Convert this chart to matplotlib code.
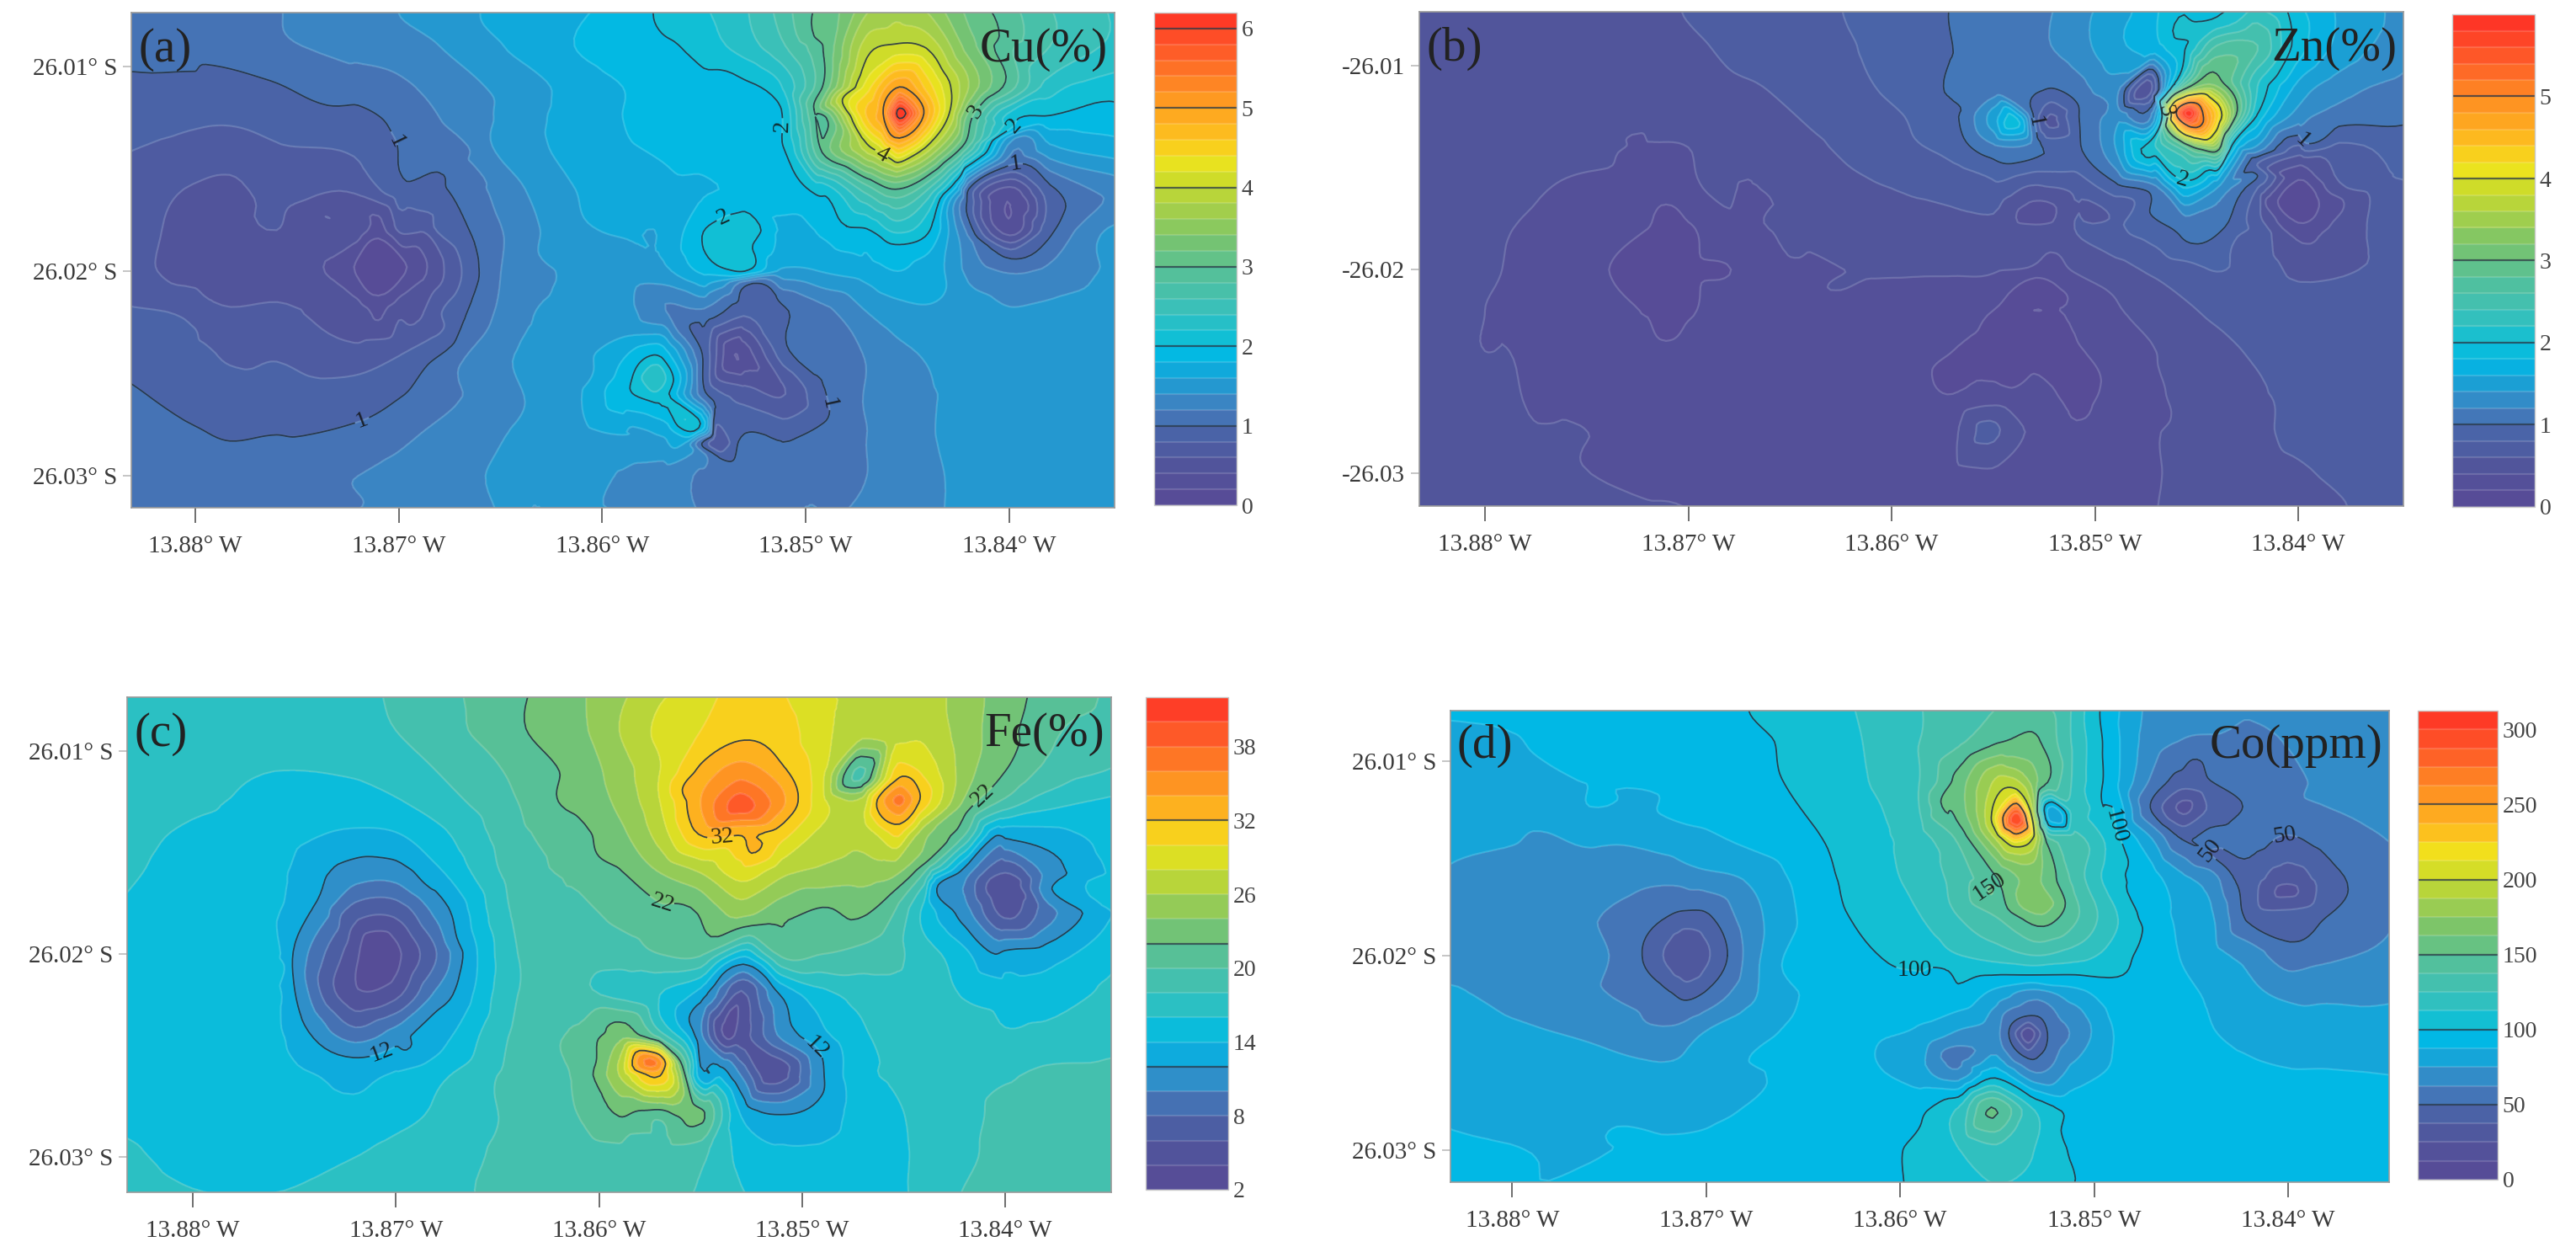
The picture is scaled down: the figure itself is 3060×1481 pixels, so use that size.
import numpy as np
import matplotlib
matplotlib.use("Agg")
import matplotlib.pyplot as plt
import matplotlib.tri as tri
from matplotlib.colors import LinearSegmentedColormap, Normalize

# grid nodes the values were read at (same for all panels)
lons = [-13.884, -13.88, -13.876, -13.872, -13.87, -13.868, -13.864, -13.861, -13.859, -13.857, -13.855,
        -13.853, -13.851, -13.849, -13.847, -13.8455, -13.844, -13.842, -13.84, -13.838, -13.834]
lats = [26.006, 26.009, 26.011, 26.0125, 26.014, 26.016, 26.018, 26.02, 26.022, 26.024, 26.026, 26.028, 26.03, 26.033]

cu_values = [
    [.95, 1.05, 1.18, 1.3, 1.35, 1.42, 1.58, 1.72, 1.85, 2.0, 2.2, 2.4, 2.75, 3.05, 3.4, 3.6, 3.4, 3.05, 2.75, 2.55, 2.3],
    [1.05, 1.1, 1.17, 1.27, 1.32, 1.4, 1.65, 1.82, 1.92, 1.98, 2.1, 2.3, 2.6, 3.05, 3.9, 4.05, 3.95, 3.3, 2.85, 2.6, 2.3],
    [.95, .93, .98, 1.08, 1.15, 1.28, 1.5, 1.7, 1.8, 1.88, 1.93, 1.97, 2.25, 3.1, 4.3, 5.0, 4.5, 3.6, 2.9, 2.3, 2.05],
    [.87, .83, .87, .95, 1.05, 1.2, 1.5, 1.72, 1.8, 1.85, 1.88, 1.93, 2.0, 3.0, 4.6, 5.85, 4.9, 3.1, 2.1, 1.97, 2.05],
    [.82, .75, .78, .87, .97, 1.15, 1.5, 1.7, 1.78, 1.82, 1.88, 1.92, 2.0, 2.5, 3.9, 4.2, 3.9, 2.8, 1.35, 1.55, 1.75],
    [.75, .58, .66, .8, .93, .97, 1.38, 1.62, 1.7, 1.75, 1.78, 1.82, 1.9, 2.1, 2.7, 3.0, 2.6, 1.0, .35, .95, 1.35],
    [.72, .53, .6, .5, .62, .85, 1.3, 1.57, 1.62, 1.62, 2.0, 2.15, 1.75, 1.85, 1.98, 2.25, 2.0, 1.0, .3, .95, 1.45],
    [.72, .52, .52, .25, .25, .68, 1.3, 1.45, 1.5, 1.55, 1.85, 2.0, 1.55, 1.62, 1.7, 1.8, 1.68, 1.35, 1.18, 1.25, 1.5],
    [.85, .75, .65, .5, .55, .78, 1.35, 1.48, 1.48, 1.42, 1.15, .85, .95, 1.15, 1.4, 1.52, 1.55, 1.5, 1.42, 1.45, 1.52],
    [.95, .85, .78, .72, .78, .98, 1.42, 1.55, 1.75, 1.9, .95, .3, .75, 1.05, 1.22, 1.35, 1.42, 1.5, 1.5, 1.5, 1.52],
    [1.05, .92, .85, .9, .98, 1.12, 1.42, 1.6, 1.95, 2.1, 1.05, .7, .6, .98, 1.2, 1.3, 1.38, 1.45, 1.5, 1.5, 1.52],
    [1.1, 1.02, 1.0, 1.08, 1.15, 1.25, 1.43, 1.55, 1.6, 1.62, 1.3, 1.0, 1.05, 1.12, 1.2, 1.3, 1.38, 1.48, 1.52, 1.52, 1.52],
    [1.15, 1.12, 1.15, 1.2, 1.25, 1.32, 1.45, 1.5, 1.38, 1.32, 1.15, 1.08, 1.08, 1.12, 1.2, 1.28, 1.36, 1.45, 1.5, 1.5, 1.5],
    [1.18, 1.15, 1.2, 1.25, 1.28, 1.34, 1.42, 1.45, 1.43, 1.35, 1.22, 1.15, 1.15, 1.2, 1.25, 1.3, 1.36, 1.45, 1.48, 1.48, 1.48],
]
zn_values = [
    [.54, .54, .55, .57, .6, .62, .74, .83, .93, .98, 1.05, 1.13, 1.25, 1.45, 1.7, 1.9, 2.1, 1.95, 1.7, 1.55, 1.3],
    [.52, .52, .53, .55, .58, .62, .7, .83, .9, 1.0, 1.08, 1.15, 1.3, 1.55, 1.75, 2.0, 2.6, 2.6, 1.9, 1.55, 1.25],
    [.5, .5, .5, .52, .54, .58, .67, .78, .87, .98, 1.05, 1.05, 1.1, 1.3, .7, 3.0, 3.2, 2.2, 1.55, 1.3, 1.1],
    [.48, .48, .47, .46, .48, .53, .62, .72, .82, .95, 1.5, 1.15, .95, 1.3, 1.9, 5.7, 4.3, 1.95, 1.3, 1.1, 1.0],
    [.48, .47, .45, .39, .4, .5, .57, .68, .78, .88, 1.15, 1.1, .9, 1.4, 2.2, 2.8, 3.2, 1.35, .9, .75, .78],
    [.48, .46, .4, .33, .35, .47, .55, .58, .62, .65, .75, .6, .65, .92, 1.15, 1.95, 1.4, .8, .28, .55, .7],
    [.47, .43, .33, .2, .18, .33, .45, .52, .55, .55, .55, .45, .6, .75, .92, 1.05, 1.05, .72, .2, .48, .62],
    [.47, .42, .3, .18, .16, .3, .37, .42, .42, .42, .42, .38, .42, .52, .65, .72, .79, .72, .55, .58, .65],
    [.47, .4, .33, .19, .18, .3, .34, .33, .33, .3, .2, .2, .22, .38, .47, .59, .65, .72, .7, .68, .68],
    [.47, .4, .32, .28, .28, .32, .34, .33, .28, .2, .15, .13, .18, .28, .4, .47, .54, .63, .68, .68, .7],
    [.48, .44, .37, .34, .34, .34, .33, .3, .26, .2, .25, .28, .14, .26, .38, .44, .52, .58, .66, .7, .72],
    [.5, .47, .41, .37, .37, .35, .33, .32, .33, .36, .5, .35, .24, .31, .39, .46, .51, .57, .64, .7, .74],
    [.52, .5, .43, .37, .36, .35, .34, .34, .35, .36, .38, .36, .34, .36, .39, .45, .5, .55, .58, .63, .72],
    [.54, .52, .5, .45, .41, .39, .37, .37, .37, .37, .37, .37, .37, .38, .4, .45, .49, .53, .57, .61, .7],
]
fe_values = [
    [17, 17, 17, 17.5, 18.5, 19.5, 21.5, 23.5, 25, 27, 29, 30, 29.5, 28, 27.5, 27.5, 27, 25, 23, 21.5, 19.5],
    [17, 17, 17, 17.5, 18, 19, 21.3, 23.5, 26, 28.5, 30, 31.5, 31, 28.5, 27, 27.5, 27.5, 25, 22.8, 20.5, 19],
    [17, 16.8, 16, 16.3, 17, 18, 20.5, 22.8, 25, 28, 32.5, 35, 33, 28.5, 20.5, 29, 29.5, 25, 22, 19.5, 17.5],
    [16.8, 16.3, 15.5, 15, 15.8, 17, 20, 22.5, 24.5, 28, 34, 38.5, 34.5, 28.5, 27, 35.5, 31, 22.5, 19.5, 17, 15.5],
    [16.5, 15.8, 15, 13.8, 14, 15.5, 19.5, 21.5, 23.5, 27, 31.5, 32.5, 31, 27.5, 27, 30, 25, 20.5, 13, 13.5, 15.5],
    [16.3, 15.5, 14.5, 11, 11, 13, 19, 20.5, 21.8, 24, 26, 29, 26.5, 25.5, 25, 24.5, 20, 11, 6, 10.5, 15],
    [16, 15.2, 14.2, 6.8, 6.5, 10.5, 18.5, 19.5, 20.5, 21.5, 22.5, 24.5, 22.6, 22.3, 22.2, 20, 15.5, 11, 5.5, 9, 14.8],
    [15.8, 15.2, 14.5, 4.5, 3.5, 8, 18, 18.8, 19, 20, 20.3, 21.3, 20.5, 20, 19.3, 18.5, 17, 14.5, 12.5, 13, 16],
    [15.7, 15.3, 14.5, 4.5, 5.5, 10.5, 18, 18.3, 17.5, 16, 13, 5.5, 11, 15.3, 16.8, 17.5, 17.5, 15.8, 15, 15, 17],
    [15.7, 15.5, 14.5, 9, 11, 13.8, 18.5, 20.5, 23, 19, 10.5, 5, 10.5, 13.5, 15.7, 16.8, 17.5, 17.5, 16.2, 16.5, 17.5],
    [15.7, 15.6, 15, 13.5, 14.3, 15.5, 18.8, 20.5, 26, 32, 13, 10, 4.5, 11.8, 15.5, 16.2, 16.5, 17.5, 17.8, 18.4, 18.6],
    [15.9, 15.6, 15.5, 15, 15.5, 16.3, 18.5, 20, 22, 20.5, 20.5, 14, 11, 13, 15, 15.7, 16.5, 17.5, 18.4, 18.5, 18.6],
    [16.2, 15.8, 15.7, 16, 16.5, 17, 18.6, 19, 19.2, 19, 18.4, 15.5, 14.5, 14.5, 15, 15.5, 16.5, 17.7, 18.4, 18.5, 18.6],
    [16.5, 16.2, 16.2, 16.5, 17, 17.5, 18.4, 18.5, 18.5, 18.5, 17.8, 16.5, 15.5, 15.5, 15.7, 15.7, 16.5, 18.3, 18.5, 18.5, 18.6],
]
co_values = [
    [90, 90, 91, 93, 95, 99, 107, 118, 125, 130, 133, 132, 122, 95, 72, 66, 64, 66, 68, 70, 72],
    [86, 87, 90, 92, 94, 97, 106, 116, 125, 135, 150, 152, 122, 92, 68, 62, 61, 60, 63, 68, 73],
    [83, 85, 88, 90, 92, 97, 105, 115, 125, 155, 190, 165, 122, 92, 60, 45, 50, 58, 60, 65, 70],
    [82, 84, 87, 89, 91, 94, 102, 112, 125, 155, 205, 250, 120, 100, 52, 25, 40, 52, 60, 62, 68],
    [80, 76, 77, 81, 85, 90, 100, 110, 120, 140, 190, 190, 130, 105, 75, 50, 55, 55, 50, 55, 65],
    [76, 72, 70, 68, 70, 76, 97, 108, 118, 130, 150, 165, 133, 105, 92, 78, 68, 45, 30, 45, 63],
    [73, 70, 64, 50, 48, 68, 95, 103, 112, 125, 138, 165, 140, 115, 93, 85, 77, 47, 43, 50, 63],
    [72, 70, 64, 35, 35, 65, 92, 96, 104, 112, 118, 125, 118, 107, 94, 87, 80, 70, 55, 60, 66],
    [74, 70, 65, 52, 52, 70, 92, 95, 95, 96, 90, 68, 82, 94, 93, 90, 86, 78, 73, 73, 74],
    [82, 78, 73, 72, 76, 82, 93, 91, 85, 73, 65, 25, 65, 88, 94, 90, 88, 85, 82, 80, 78],
    [84, 81, 80, 77, 80, 85, 93, 88, 80, 65, 76, 62, 80, 89, 94, 91, 90, 89, 88, 88, 87],
    [87, 84, 84, 84, 85, 88, 94, 93, 98, 115, 125, 112, 97, 95, 95, 94, 92, 90, 90, 90, 90],
    [88, 85, 87, 89, 90, 93, 95, 97, 103, 112, 122, 112, 98, 96, 96, 95, 94, 93, 91, 90, 90],
    [89, 88, 89, 90, 91, 94, 96, 98, 101, 105, 108, 105, 97, 96, 96, 96, 96, 95, 94, 92, 90],
]

# peaks, pits and points on the drawn isolines, read between the grid nodes
cu_spots = [(-13.8553, 26.0276, 2.05), (-13.871, 26.0198, .1), (-13.8535, 26.0241, .2),
            (-13.8454, 26.0123, 6.1), (-13.8401, 26.0166, .2), (-13.8543, 26.0284, .6),
            (-13.8795, 26.0099, 1), (-13.8763, 26.0107, 1), (-13.8735, 26.0119, 1), (-13.8702, 26.0135, 1),
            (-13.8678, 26.0153, 1), (-13.8664, 26.0183, 1), (-13.8666, 26.0219, 1), (-13.8686, 26.0246, 1),
            (-13.8718, 26.0273, 1), (-13.8751, 26.0281, 1), (-13.8783, 26.0283, 1),
            (-13.8783, 26.0129, .8), (-13.8722, 26.0144, .8), (-13.8672, 26.0189, .8), (-13.8678, 26.0228, .8),
            (-13.8722, 26.0251, .8), (-13.8783, 26.0246, .8),
            (-13.8783, 26.0153, .6), (-13.8751, 26.0167, .6), (-13.8722, 26.0162, .6), (-13.8686, 26.0182, .6),
            (-13.8678, 26.0203, .6), (-13.869, 26.0224, .6), (-13.8722, 26.0235, .6), (-13.8755, 26.0216, .6),
            (-13.8791, 26.0215, .6), (-13.8817, 26.0183, .6),
            (-13.8737, 26.0198, .4), (-13.871, 26.0173, .4), (-13.8686, 26.0198, .4), (-13.871, 26.0224, .4),
            (-13.8722, 26.0198, .2), (-13.871, 26.0184, .2), (-13.8696, 26.0198, .2), (-13.871, 26.0212, .2),
            (-13.8757, 26.0074, 1.2), (-13.8702, 26.0103, 1.2), (-13.8666, 26.0139, 1.2), (-13.865, 26.0202, 1.2),
            (-13.867, 26.0246, 1.2), (-13.8718, 26.0315, 1.2),
            (-13.87, 26.0074, 1.4), (-13.8654, 26.0139, 1.4), (-13.8631, 26.0192, 1.4), (-13.8638, 26.0264, 1.4),
            (-13.8631, 26.0315, 1.4),
            (-13.866, 26.0074, 1.6), (-13.8609, 26.0174, 1.6), (-13.8544, 26.0205, 1.6), (-13.8439, 26.0216, 1.6),
            (-13.8431, 26.0205, 1.6),
            (-13.8575, 26.0074, 2), (-13.8561, 26.0091, 2), (-13.8533, 26.0105, 2), (-13.8512, 26.0121, 2),
            (-13.851, 26.0142, 2), (-13.8496, 26.0162, 2), (-13.848, 26.0178, 2), (-13.8456, 26.0187, 2),
            (-13.8439, 26.018, 2), (-13.8427, 26.0157, 2), (-13.8399, 26.013, 2), (-13.8351, 26.0117, 2),
            (-13.8496, 26.0121, 3), (-13.8492, 26.0142, 3), (-13.8456, 26.016, 3), (-13.8423, 26.0139, 3),
            (-13.8405, 26.0085, 3), (-13.8496, 26.0085, 3),
            (-13.8456, 26.0089, 4), (-13.8482, 26.0116, 4), (-13.8464, 26.0142, 4), (-13.8429, 26.0121, 4),
            (-13.8454, 26.011, 5), (-13.8462, 26.0123, 5), (-13.8454, 26.0135, 5), (-13.8442, 26.0123, 5),
            (-13.8399, 26.0148, 1), (-13.8421, 26.0167, 1), (-13.8399, 26.0194, 1), (-13.8373, 26.0171, 1),
            (-13.8425, 26.0183, 1.4), (-13.8389, 26.0216, 1.4), (-13.8355, 26.0182, 1.4), (-13.8397, 26.0135, 1.4),
            (-13.8551, 26.0183, 2), (-13.8539, 26.0173, 2), (-13.8526, 26.0187, 2), (-13.8539, 26.0199, 2),
            (-13.8526, 26.0206, 1), (-13.8557, 26.0228, 1), (-13.8545, 26.0264, 1), (-13.8508, 26.0283, 1),
            (-13.849, 26.0273, 1), (-13.849, 26.026, 1), (-13.8508, 26.0239, 1), (-13.8512, 26.0216, 1),
            (-13.8569, 26.0216, 1.2), (-13.8472, 26.0264, 1.2), (-13.85, 26.0315, 1.2), (-13.8549, 26.029, 1.2),
            (-13.8585, 26.0251, 2), (-13.8575, 26.0241, 2), (-13.8565, 26.0253, 2), (-13.8575, 26.0264, 2),
            (-13.8575, 26.0252, 2.4), (-13.8605, 26.0251, 1.6), (-13.8589, 26.0232, 1.6), (-13.8585, 26.0276, 1.6),
            (-13.8561, 26.0285, 1.6), (-13.8551, 26.0284, 1), (-13.8541, 26.0292, 1), (-13.8533, 26.0283, 1)]
zn_spots = [(-13.854, 26.0127, 1.9), (-13.8522, 26.0127, .55), (-13.8473, 26.0113, .55), (-13.8454, 26.0123, 5.9),
            (-13.8528, 26.0174, .3), (-13.8554, 26.0278, .65), (-13.8711, 26.0199, .1), (-13.8401, 26.0165, .1),
            (-13.8572, 26.0074, 1), (-13.8574, 26.0113, 1), (-13.8562, 26.0139, 1), (-13.8541, 26.0148, 1),
            (-13.8525, 26.0143, 1), (-13.8531, 26.0122, 1), (-13.8521, 26.0111, 1), (-13.8509, 26.0118, 1),
            (-13.8507, 26.0139, 1), (-13.8473, 26.0172, 1), (-13.8453, 26.0187, 1), (-13.8436, 26.0179, 1),
            (-13.842, 26.0154, 1), (-13.8396, 26.0138, 1), (-13.8348, 26.0129, 1),
            (-13.8461, 26.0109, 2), (-13.8461, 26.0086, 2), (-13.844, 26.0076, 2), (-13.841, 26.0104, 2),
            (-13.8432, 26.0138, 2), (-13.8457, 26.0156, 2), (-13.8477, 26.0143, 2), (-13.8467, 26.0125, 2),
            (-13.8442, 26.0103, 3), (-13.8455, 26.0111, 3), (-13.843, 26.0122, 3), (-13.8448, 26.0141, 3),
            (-13.8465, 26.013, 3), (-13.8453, 26.0118, 5), (-13.846, 26.0123, 5), (-13.8453, 26.013, 5),
            (-13.8447, 26.0123, 5),
            (-13.8723, 26.0133, .4), (-13.8762, 26.0156, .4), (-13.8788, 26.024, .4), (-13.8776, 26.0274, .4),
            (-13.8752, 26.0296, .4), (-13.8703, 26.0316, .4), (-13.8469, 26.0316, .4), (-13.8463, 26.0274, .4),
            (-13.8469, 26.0247, .4), (-13.8493, 26.0211, .4), (-13.8519, 26.0192, .4), (-13.8533, 26.0199, .4),
            (-13.8598, 26.0204, .4), (-13.863, 26.021, .4), (-13.8651, 26.0193, .4), (-13.8675, 26.0157, .4),
            (-13.8711, 26.0168, .2), (-13.8739, 26.02, .2), (-13.8711, 26.0235, .2), (-13.8679, 26.02, .2),
            (-13.8529, 26.0204, .2), (-13.858, 26.0249, .2), (-13.857, 26.0261, .2), (-13.8541, 26.0258, .2),
            (-13.8509, 26.0274, .2), (-13.8497, 26.0254, .2), (-13.8515, 26.0211, .2),
            (-13.8703, 26.0074, .6), (-13.8661, 26.0112, .6), (-13.862, 26.015, .6), (-13.8571, 26.0169, .6),
            (-13.8533, 26.0159, .6), (-13.8493, 26.0175, .6), (-13.8453, 26.0217, .6), (-13.8412, 26.0265, .6),
            (-13.8376, 26.0316, .6),
            (-13.8624, 26.0074, .8), (-13.8606, 26.0113, .8), (-13.8585, 26.0139, .8), (-13.8554, 26.0154, .8),
            (-13.8521, 26.0152, .8), (-13.8481, 26.0166, .8), (-13.844, 26.0201, .8), (-13.843, 26.0184, .8),
            (-13.842, 26.0148, .8), (-13.84, 26.0139, .8), (-13.8348, 26.0156, .8),
            (-13.84, 26.0144, .6), (-13.8418, 26.0175, .6), (-13.8392, 26.0206, .6), (-13.8366, 26.0175, .6),
            (-13.8398, 26.0149, .4), (-13.8416, 26.0166, .4), (-13.8398, 26.0187, .4), (-13.8378, 26.0166, .4),
            (-13.84, 26.0156, .2), (-13.841, 26.0166, .2), (-13.839, 26.0166, .2), (-13.84, 26.0177, .2)]
fe_spots = [(-13.8531, 26.0128, 38.8), (-13.8452, 26.0124, 36.5), (-13.8472, 26.0113, 19.5), (-13.8529, 26.0215, 7),
            (-13.8537, 26.024, 3.5), (-13.8515, 26.0258, 4.5), (-13.8573, 26.0253, 36.5), (-13.8554, 26.0279, 23.5),
            (-13.871, 26.0199, 2.2), (-13.84, 26.0165, 4.5),
            (-13.8713, 26.0152, 12), (-13.8739, 26.0174, 12), (-13.8751, 26.0206, 12), (-13.8745, 26.0235, 12),
            (-13.8721, 26.0251, 12), (-13.8693, 26.0246, 12), (-13.8672, 26.022, 12), (-13.867, 26.0192, 12),
            (-13.8685, 26.0166, 12),
            (-13.8721, 26.0138, 14), (-13.8755, 26.0174, 14), (-13.8755, 26.0206, 14), (-13.8721, 26.0269, 14),
            (-13.8677, 26.0247, 14), (-13.866, 26.0199, 14), (-13.8681, 26.0155, 14),
            (-13.862, 26.0125, 22), (-13.8579, 26.0168, 22), (-13.8555, 26.0177, 22), (-13.8525, 26.0186, 22),
            (-13.849, 26.0177, 22), (-13.8458, 26.0172, 22), (-13.8438, 26.0154, 22), (-13.8417, 26.0128, 22),
            (-13.8393, 26.0096, 22), (-13.8636, 26.0089, 22), (-13.86, 26.0152, 22),
            (-13.8531, 26.0095, 32), (-13.8559, 26.0119, 32), (-13.8551, 26.0141, 32), (-13.8523, 26.015, 32),
            (-13.8502, 26.0125, 32), (-13.8511, 26.0105, 32),
            (-13.8452, 26.0113, 32), (-13.8463, 26.0124, 32), (-13.8452, 26.0136, 32), (-13.8442, 26.0124, 32),
            (-13.8405, 26.0142, 12), (-13.8433, 26.0166, 12), (-13.8405, 26.02, 12), (-13.8377, 26.0168, 12),
            (-13.8529, 26.0205, 12), (-13.8555, 26.0235, 12), (-13.8539, 26.0256, 12), (-13.8508, 26.0279, 12),
            (-13.849, 26.0269, 12), (-13.8492, 26.0247, 12), (-13.8511, 26.022, 12),
            (-13.8602, 26.0255, 22), (-13.8587, 26.0234, 22), (-13.8559, 26.0255, 22), (-13.8579, 26.0277, 22),
            (-13.8554, 26.0273, 22), (-13.8561, 26.028, 22), (-13.8554, 26.0285, 22), (-13.8548, 26.0278, 22)]
co_spots = [(-13.8539, 26.0129, 295), (-13.8523, 26.0127, 80), (-13.8454, 26.0124, 22), (-13.8401, 26.0166, 22),
            (-13.8528, 26.0173, 172), (-13.871, 26.02, 25), (-13.8534, 26.024, 18), (-13.8572, 26.0252, 58),
            (-13.8553, 26.0278, 150),
            (-13.8678, 26.0074, 100), (-13.8661, 26.0109, 100), (-13.8644, 26.0134, 100), (-13.8628, 26.0177, 100),
            (-13.8606, 26.0204, 100), (-13.8577, 26.0207, 100), (-13.8534, 26.021, 100), (-13.8488, 26.0211, 100),
            (-13.8475, 26.0187, 100), (-13.8483, 26.0149, 100), (-13.8496, 26.0121, 100), (-13.8497, 26.0074, 100),
            (-13.8547, 26.009, 150), (-13.8579, 26.0121, 150), (-13.8555, 26.0166, 150), (-13.8526, 26.0185, 150),
            (-13.8515, 26.0175, 150), (-13.8524, 26.0143, 150), (-13.8524, 26.0111, 150),
            (-13.8541, 26.0114, 200), (-13.8553, 26.0129, 200), (-13.8541, 26.0144, 200), (-13.8532, 26.0129, 200),
            (-13.8447, 26.0099, 50), (-13.8471, 26.0124, 50), (-13.8441, 26.0147, 50), (-13.8424, 26.0121, 50),
            (-13.8401, 26.0138, 50), (-13.8426, 26.0164, 50), (-13.8399, 26.0193, 50), (-13.8369, 26.0166, 50),
            (-13.8712, 26.0177, 50), (-13.8733, 26.02, 50), (-13.871, 26.0223, 50), (-13.8689, 26.02, 50),
            (-13.8717, 26.0164, 62.5), (-13.875, 26.02, 62.5), (-13.8717, 26.0236, 62.5), (-13.8681, 26.02, 62.5),
            (-13.8832, 26.0153, 75), (-13.8789, 26.0136, 75), (-13.8746, 26.0143, 75), (-13.8704, 26.0155, 75),
            (-13.867, 26.0187, 75), (-13.8674, 26.0221, 75), (-13.8717, 26.0254, 75), (-13.8789, 26.0236, 75),
            (-13.8832, 26.0215, 75),
            (-13.8789, 26.0096, 87.5), (-13.8725, 26.0117, 87.5), (-13.8661, 26.0205, 87.5), (-13.8678, 26.0254, 87.5),
            (-13.8746, 26.0288, 87.5), (-13.8801, 26.0297, 87.5),
            (-13.8534, 26.0231, 50), (-13.8544, 26.024, 50), (-13.8534, 26.0253, 50), (-13.8524, 26.024, 50),
            (-13.8551, 26.0263, 100), (-13.8589, 26.0286, 100), (-13.8598, 26.0317, 100), (-13.8517, 26.029, 100),
            (-13.851, 26.0317, 100),
            (-13.8611, 26.0245, 87.5), (-13.8551, 26.0217, 87.5), (-13.849, 26.0245, 87.5), (-13.8585, 26.0268, 87.5)]

xtick_vals = [-13.88, -13.87, -13.86, -13.85, -13.84]
xtick_labels = ['13.88° W', '13.87° W', '13.86° W', '13.85° W', '13.84° W']
ytick_vals = [26.01, 26.02, 26.03]
ytick_labels = ['26.01° S', '26.02° S', '26.03° S']
ytick_labels_b = ['-26.01', '-26.02', '-26.03']

colours = [(0, '#584a96'), (.08, '#51549b'), (.15, '#4a64a8'), (.2, '#4080c0'), (.25, '#1c9fd4'), (.3, '#00b8e6'),
           (.34, '#12bfd4'), (.4, '#3bc0b8'), (.47, '#55c09a'), (.54, '#79c46c'), (.6, '#a5cf4a'), (.65, '#c8da2c'),
           (.7, '#f0e41c'), (.74, '#fcc41e'), (.8, '#fea420'), (.86, '#fe8224'), (.92, '#fe5c28'), (1, '#fe3226')]
cmap = LinearSegmentedColormap.from_list('map', colours)

W, H = 3060, 1481
plt.rcParams['font.family'] = ['Liberation Serif', 'DejaVu Serif']
fig = plt.figure(figsize=(W / 100, H / 100), dpi=100, facecolor='white')


def panel(box, cbox, xlim, ylim, values, spots, levels, line_levels, cticks, tag, name, ylabels, label_at):
    ax = fig.add_axes([box[0] / W, 1 - box[3] / H, (box[1] - box[0]) / W, (box[3] - box[2]) / H])
    cax = fig.add_axes([cbox[0] / W, 1 - cbox[3] / H, (cbox[1] - cbox[0]) / W, (cbox[3] - cbox[2]) / H])

    gx, gy = np.meshgrid(lons, lats)
    gz = np.array(values, dtype=float)
    sp = np.array(spots)
    # a grid node right next to a read point gives way to it
    keep = np.ones(gx.size, dtype=bool)
    for s in spots:
        keep &= (np.abs(gx.ravel() - s[0]) > .0005) | (np.abs(gy.ravel() - s[1]) > .0005)
    x = np.append(gx.ravel()[keep], sp[:, 0])
    y = np.append(gy.ravel()[keep], sp[:, 1])
    z = np.append(gz.ravel()[keep], sp[:, 2])
    t = tri.Triangulation(x * 100, y * 100)
    interp = tri.CubicTriInterpolator(t, z, kind='geom')
    fine, fine_z = tri.UniformTriRefiner(t).refine_field(z, triinterpolator=interp, subdiv=3)
    fine = tri.Triangulation(fine.x / 100, fine.y / 100, fine.triangles)
    fine_z = np.clip(fine_z, levels[0] + 1e-3, levels[-1] - 1e-3)

    norm = Normalize(levels[0], levels[-1])
    cf = ax.tricontourf(fine, fine_z, levels=levels, cmap=cmap, norm=norm)
    ax.tricontour(fine, fine_z, levels=levels, colors='white', alpha=.16, linewidths=1.6)
    cl = ax.tricontour(fine, fine_z, levels=line_levels, colors='#1c2c3c', linewidths=1.3, alpha=.85)
    ax.set_xlim(xlim)
    ax.set_ylim(ylim)
    ax.clabel(cl, fmt='%g', fontsize=20, colors='#111111', manual=label_at, inline=True, inline_spacing=2)

    ax.set_xticks(xtick_vals)
    ax.set_xticklabels(xtick_labels)
    ax.set_yticks(ytick_vals)
    ax.set_yticklabels(ylabels)
    ax.tick_params(axis='x', length=13, width=1.2, color='#555555', labelsize=21, labelcolor='#3a3a3a', pad=11)
    ax.tick_params(axis='y', length=7, width=1.2, color='#bbbbbb', labelsize=21, labelcolor='#3a3a3a', pad=5)
    for s in ax.spines.values():
        s.set_color('#9a9a9a')
        s.set_linewidth(1.2)
    ax.text(.007, .925, tag, transform=ax.transAxes, fontsize=41, color='#222222', va='center')
    ax.text(.993, .925, name, transform=ax.transAxes, fontsize=41, color='#222222', va='center', ha='right')

    cb = fig.colorbar(cf, cax=cax)
    cb.set_ticks(cticks)
    cb.ax.tick_params(length=0, labelsize=20, labelcolor='#444444', pad=4)
    cb.outline.set_edgecolor('#c8c8c8')
    cb.outline.set_linewidth(1)
    cax.hlines(levels, 0, 1, colors='white', alpha=.15, linewidth=1.6)
    cax.hlines(line_levels, 0, 1, colors='#1c2c3c', alpha=.7, linewidth=1.6)


panel((156, 1324, 15, 603), (1371, 1469, 15, 600), (-13.88314, -13.83483), (26.03156, 26.00737),
      cu_values, cu_spots, np.append(np.arange(0, 6.1, .2), 6.22), [1, 2, 3, 4, 5, 6], [0, 1, 2, 3, 4, 5, 6],
      '(a)', 'Cu(%)', ytick_labels,
      [(-13.8702, 26.0137), (-13.8718, 26.0273), (-13.8512, 26.0129), (-13.8463, 26.0144), (-13.8415, 26.0123),
       (-13.8397, 26.013), (-13.8397, 26.0148), (-13.8539, 26.0177), (-13.8489, 26.0265)])
panel((1686, 2855, 14, 601), (2913, 3011, 17, 602), (-13.88323, -13.83483), (26.0316, 26.00735),
      zn_values, zn_spots, np.append(np.arange(0, 5.9, .2), 5.92), [1, 2, 3, 4, 5], [0, 1, 2, 3, 4, 5],
      '(b)', 'Zn(%)', ytick_labels_b,
      [(-13.8528, 26.0127), (-13.8398, 26.0137), (-13.8457, 26.0156), (-13.8465, 26.0122)])
panel((151, 1320, 828, 1416), (1361, 1459, 828, 1413), (-13.88324, -13.83478), (26.03173, 26.00735),
      fe_values, fe_spots, np.arange(2, 43, 2), [12, 22, 32], [2, 8, 14, 20, 26, 32, 38],
      '(c)', 'Fe(%)', ytick_labels,
      [(-13.8539, 26.0146), (-13.8568, 26.0173), (-13.8411, 26.0122), (-13.8707, 26.0249), (-13.8494, 26.0247)])
panel((1723, 2838, 844, 1404), (2872, 2967, 844, 1401), (-13.88318, -13.83479), (26.03166, 26.0074),
      co_values, co_spots, np.append(np.arange(0, 301, 12.5), 310), [50, 100, 150, 200, 250], [0, 50, 100, 150, 200, 250, 300],
      '(d)', 'Co(ppm)', ytick_labels,
      [(-13.8592, 26.0205), (-13.8494, 26.0134), (-13.8556, 26.0162), (-13.8441, 26.0143), (-13.8402, 26.0137)])

fig.savefig('out.png', dpi=100, facecolor='white')
